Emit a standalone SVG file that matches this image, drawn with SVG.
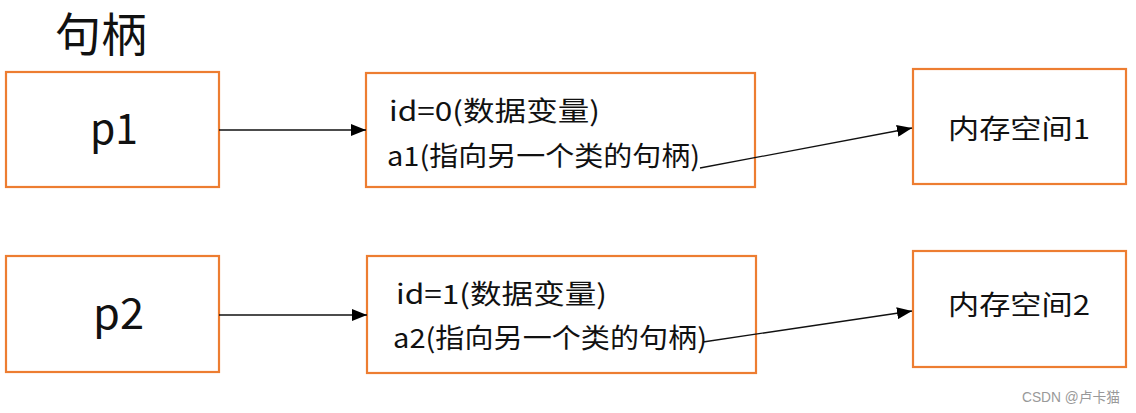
<svg xmlns="http://www.w3.org/2000/svg" width="1136" height="413" viewBox="0 0 1136 413">
<style>
.box{fill:#fff;stroke:#ED7D31;stroke-width:2.2}
.t{font-family:"Noto Sans CJK SC","Liberation Sans",sans-serif;fill:#111}
.c{stroke:#111;stroke-width:1.3;fill:none}
</style>
<defs>
<marker id="ah" markerWidth="15" markerHeight="12" refX="15" refY="6" orient="auto" markerUnits="userSpaceOnUse">
<path d="M0,0 L15,6 L0,12 Z" fill="#000"/>
</marker>
</defs>
<rect width="1136" height="413" fill="#fff"/>
<text class="t" x="55" y="51" font-size="46" textLength="92" lengthAdjust="spacingAndGlyphs">句柄</text>
<g id="p1">
<rect class="box" x="6" y="72" width="213" height="115"/>
<text class="t" x="90" y="144" font-size="42" textLength="48" lengthAdjust="spacingAndGlyphs">p1</text>
</g>
<g id="obj1">
<rect class="box" x="366" y="73" width="389" height="114"/>
<text class="t" x="389" y="121" font-size="27" textLength="211" lengthAdjust="spacingAndGlyphs">id=0(数据变量)</text>
<text class="t" x="387" y="166" font-size="27" textLength="313" lengthAdjust="spacingAndGlyphs">a1(指向另一个类的句柄)</text>
</g>
<g id="mem1">
<rect class="box" x="913" y="69" width="213" height="115"/>
<text class="t" x="948" y="139" font-size="27" textLength="142" lengthAdjust="spacingAndGlyphs">内存空间1</text>
</g>
<g id="p2">
<rect class="box" x="6" y="256" width="213" height="116"/>
<text class="t" x="93" y="329" font-size="42" textLength="51" lengthAdjust="spacingAndGlyphs">p2</text>
</g>
<g id="obj2">
<rect class="box" x="367" y="256" width="389" height="117"/>
<text class="t" x="396" y="304" font-size="27" textLength="211" lengthAdjust="spacingAndGlyphs">id=1(数据变量)</text>
<text class="t" x="393" y="348" font-size="27" textLength="314" lengthAdjust="spacingAndGlyphs">a2(指向另一个类的句柄)</text>
</g>
<g id="mem2">
<rect class="box" x="913" y="251" width="213" height="116"/>
<text class="t" x="948" y="315" font-size="27" textLength="142" lengthAdjust="spacingAndGlyphs">内存空间2</text>
</g>
<g id="connectors">
<line class="c" x1="219" y1="130" x2="366" y2="130" marker-end="url(#ah)"/>
<line class="c" x1="700" y1="168" x2="912" y2="128" marker-end="url(#ah)"/>
<line class="c" x1="219" y1="315" x2="367" y2="315" marker-end="url(#ah)"/>
<line class="c" x1="703" y1="342" x2="912" y2="311" marker-end="url(#ah)"/>
</g>
<text x="1022" y="402" font-family="'Liberation Sans','Noto Sans CJK SC',sans-serif" font-size="14" fill="#999" textLength="98" lengthAdjust="spacingAndGlyphs">CSDN @卢卡猫</text>
</svg>
